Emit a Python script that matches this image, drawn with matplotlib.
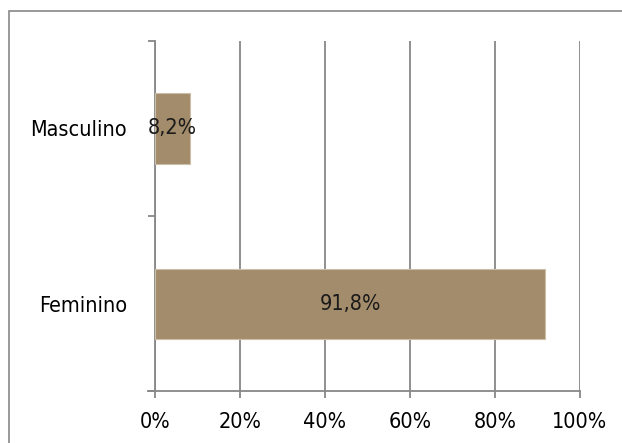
import matplotlib.pyplot as plt
from matplotlib.patches import Rectangle
from matplotlib.ticker import FuncFormatter

# Distribution by sex (percent)
categories = ["Feminino", "Masculino"]
values = [91.8, 8.2]
value_labels = ["91,8%", "8,2%"]

plt.rcParams['font.family'] = ['DejaVu Sans']
plt.rcParams['font.stretch'] = 'condensed'
plt.rcParams['font.size'] = 15.5

grey = '#878787'
bar_color = '#a38c6b'

fig = plt.figure(figsize=(6.22, 4.43), dpi=100)
ax = fig.add_axes([155 / 622, 1 - 391 / 443, 425 / 622, 350 / 443])

# outer frame of the chart area
fig.patches.append(Rectangle((9 / 622, -0.5), 2, 1.5 - 11 / 443, transform=fig.transFigure,
                             fill=False, edgecolor=grey, linewidth=1.2))

y = range(len(categories))
ax.barh(y, values, height=0.4, color=bar_color, edgecolor='#cbbfa8', linewidth=0.8, zorder=3)

for yi, v, lab in zip(y, values, value_labels):
    ax.text(v / 2, yi, lab, ha='center', va='center', color='#1a1a1a', zorder=4)

ax.set_xlim(0, 100)
ax.set_ylim(-0.5, 1.5)
ax.set_xticks(range(0, 101, 20))
ax.xaxis.set_major_formatter(FuncFormatter(lambda v, p: f"{int(v)}%"))
ax.grid(axis='x', color=grey, linewidth=1.3, zorder=0)

# category labels sit between the boundary ticks
ax.set_yticks([-0.5, 0.5, 1.5])
ax.set_yticklabels([])
ax.set_yticks(list(y), minor=True)
ax.set_yticklabels(categories, minor=True)
ax.tick_params(axis='y', which='minor', length=0, pad=20)
ax.tick_params(axis='y', which='major', length=5, width=1.3, color=grey)
ax.tick_params(axis='x', length=5, width=1.3, color=grey, pad=10)

for side in ['top', 'right']:
    ax.spines[side].set_visible(False)
for side in ['left', 'bottom']:
    ax.spines[side].set_color(grey)
    ax.spines[side].set_linewidth(1.3)
ax.spines['bottom'].set_bounds(-1.65, 100)
ax.spines['bottom'].set_clip_on(False)

fig.savefig('out.png', dpi=100)
